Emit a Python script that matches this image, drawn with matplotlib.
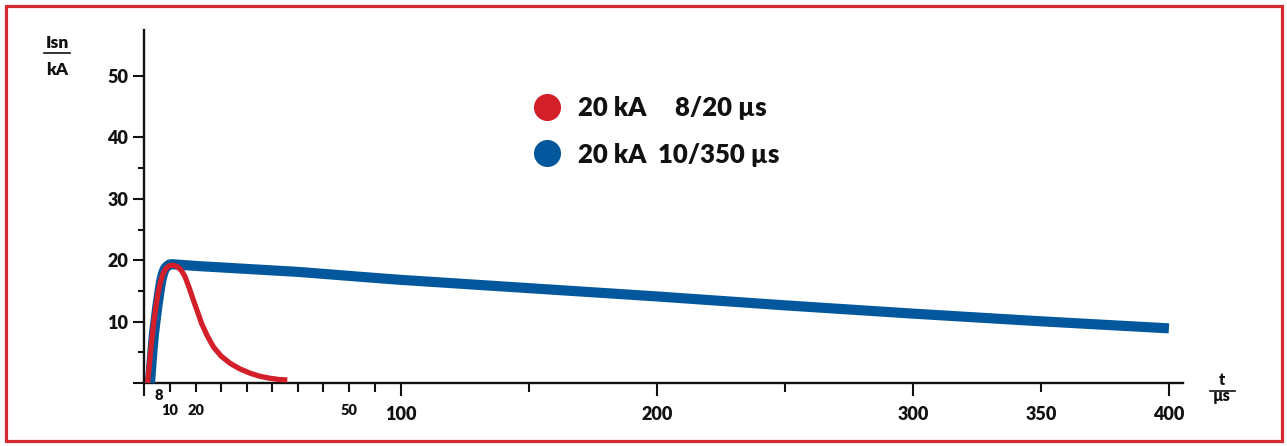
import numpy as np
import matplotlib
matplotlib.use("Agg")
import matplotlib.pyplot as plt
from matplotlib.lines import Line2D
from matplotlib.patches import Rectangle

# ---- data -------------------------------------------------------------
# 8/20 us surge current (t in us, I in kA)
t_8_20 = [1.4, 2.0, 2.6, 3.2, 3.8, 4.6, 5.5, 6.4, 7.4, 8.5, 9.8, 11.3,
          13.1, 14.6, 15.8, 17.3, 19.0, 20.3, 21.1, 22.2, 23.4, 24.9, 26.7,
          28.6, 30.6, 32.5, 34.5, 36.5, 37.9]
i_8_20 = [0.0, 2.7, 5.4, 7.7, 10.0, 12.5, 14.9, 16.6, 17.9, 18.7, 19.1, 19.2,
          18.9, 18.2, 17.3, 15.6, 13.5, 11.6, 9.7, 7.7, 5.9, 4.4, 3.2,
          2.3, 1.6, 1.1, 0.77, 0.55, 0.5]

# 10/350 us surge current
t_10_350 = [2.3, 2.8, 3.3, 3.8, 4.4, 5.2, 6.0, 6.6, 7.3, 8.0, 8.8, 9.8, 10.8,
            20.3, 40.0, 50.0, 80.0, 100.0, 150.0, 200.0, 250.0, 300.0, 350.0,
            400.0]
i_10_350 = [0.0, 2.7, 5.5, 7.9, 10.0, 12.7, 15.0, 16.6, 17.8, 18.6, 19.0,
            19.3, 19.35, 19.05, 18.1, 17.45, 17.05, 16.8, 15.45, 14.1, 12.65,
            11.3, 10.05, 8.9]

legend_current = ["20 kA", "20 kA"]
legend_shape = ["8/20 µs", "10/350 µs"]

x_major = [0, 100, 200, 300, 400]
x_major_labels = ["", "100", "200", "300", "400"]
x_minor = [10, 20, 25, 30, 35, 40, 45, 50, 75, 150, 250, 350]
x_minor_labels = ["10", "20", "", "", "", "", "", "50", "", "", "", "350"]
y_major = [0, 10, 20, 30, 40, 50]
y_major_labels = ["", "10", "20", "30", "40", "50"]
y_minor = [5, 15, 25, 35]

# ---- style ------------------------------------------------------------
RED = "#d21f2a"
BLUE = "#03589d"
FRAME = "#d42a30"
INK = "#111111"
FONT = ["Lato", "DejaVu Sans"]
WEIGHT = "heavy"
plt.rcParams["font.family"] = FONT
plt.rcParams["font.weight"] = WEIGHT

# piecewise-linear time axis: stretched around the wave fronts
T_KNOTS = [-100, 0, 20, 50, 100, 400, 1000]
P_KNOTS = [-260, 0, 52, 205, 257, 1025, 2561]


def fwd(t):
    return np.interp(t, T_KNOTS, P_KNOTS)


def inv(p):
    return np.interp(p, P_KNOTS, T_KNOTS)


W, H = 1287, 446
fig = plt.figure(figsize=(W / 100, H / 100), dpi=100)
ax = fig.add_axes([144 / W, (H - 383) / H, (1183 - 144) / W, (383 - 30) / H])
ax.set_xscale("function", functions=(fwd, inv))
ax.set_xlim(0, 405.5)
ax.set_ylim(0, 57.5)

ax.plot(t_10_350, i_10_350, color=BLUE, lw=7.3, solid_capstyle="butt",
        solid_joinstyle="round", zorder=3, clip_on=False)
ax.plot(t_8_20, i_8_20, color=RED, lw=3.8, solid_capstyle="butt",
        solid_joinstyle="round", zorder=4, clip_on=False)

for side in ("top", "right"):
    ax.spines[side].set_visible(False)
for side in ("left", "bottom"):
    ax.spines[side].set_linewidth(1.7)
    ax.spines[side].set_color(INK)

ax.set_xticks(x_major, x_major_labels)
ax.set_xticks(x_minor, x_minor_labels, minor=True)
ax.set_yticks(y_major, y_major_labels)
ax.set_yticks(y_minor, minor=True)

ax.tick_params(axis="x", which="major", direction="out", length=9.5, width=1.5,
               pad=7.0, labelsize=13, colors=INK)
ax.tick_params(axis="x", which="minor", direction="out", length=6.5, width=1.5,
               pad=8.5, labelsize=10.5, colors=INK)
ax.tick_params(axis="y", which="major", direction="out", length=8, width=1.5,
               pad=3.5, labelsize=13, colors=INK)
ax.tick_params(axis="y", which="minor", direction="out", length=4, width=1.5,
               colors=INK)
for lab in ax.get_xticklabels(minor=True):
    if lab.get_text() == "350":
        lab.set_fontsize(13)
        lab.set_y(-0.006)
for lab in ax.get_xticklabels() + ax.get_yticklabels() + ax.get_xticklabels(minor=True):
    lab.set_fontweight(WEIGHT)

# "8" marks the front time of the 8/20 wave
ax.annotate("8", xy=(8, 0), xytext=(-1.5, -9.3), textcoords="offset points",
            ha="right", va="center", fontsize=10.5, fontweight=WEIGHT, color=INK)

# ---- overlay in pixel coordinates: frame, legend, unit labels ----------
ov = fig.add_axes([0, 0, 1, 1], zorder=10)
ov.set_xlim(0, W)
ov.set_ylim(H, 0)
ov.axis("off")
ov.patch.set_alpha(0)

ov.add_patch(Rectangle((5.5, 5.5), W - 11, H - 11, fill=False,
                       edgecolor=FRAME, lw=2.3, clip_on=False))

for color, cur, shape, yb, xs in zip([RED, BLUE], legend_current, legend_shape,
                                     [116, 162.7], [675, 658]):
    ov.add_line(Line2D([547], [yb - 9.5], marker="o", markersize=19.5,
                       color=color, markeredgewidth=0))
    ov.text(578, yb, cur, fontsize=18.5, fontweight=WEIGHT, color=INK,
            va="baseline", ha="left")
    ov.text(xs, yb, shape, fontsize=18.5, fontweight=WEIGHT, color=INK,
            va="baseline", ha="left")

# y unit: Isn / kA
ov.text(57, 48.3, "Isn", fontsize=12.5, fontweight=WEIGHT, ha="center",
        va="baseline", color=INK)
ov.plot([44, 70], [53.3, 53.3], color=INK, lw=1.2)
ov.text(57, 75, "kA", fontsize=12.5, fontweight=WEIGHT, ha="center",
        va="baseline", color=INK)

# x unit: t / µs
ov.text(1222, 385, "t", fontsize=11.5, fontweight=WEIGHT, ha="center",
        va="baseline", color=INK)
ov.plot([1210, 1235], [391, 391], color=INK, lw=1.2)
ov.text(1222, 401, "µs", fontsize=11.5, fontweight=WEIGHT, ha="center",
        va="baseline", color=INK)

fig.savefig("out.png", dpi=100)
